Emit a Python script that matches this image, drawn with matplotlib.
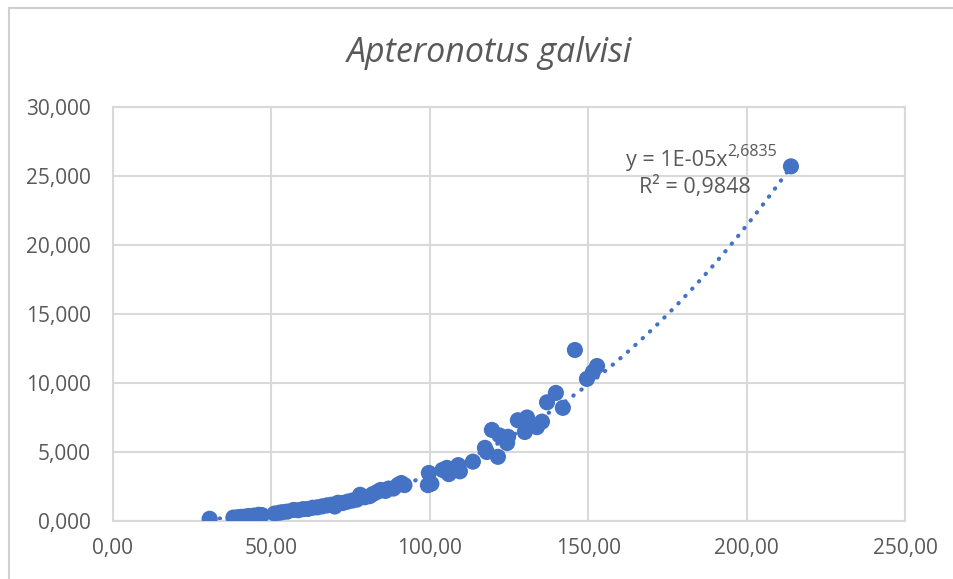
import numpy as np
import matplotlib
matplotlib.use("Agg")
import matplotlib.pyplot as plt
from matplotlib.ticker import FuncFormatter, MultipleLocator
from matplotlib.patches import Rectangle
from matplotlib.transforms import offset_copy

# length (mm) vs weight (g)
length = [30.5, 38.0, 39.5, 40.5, 42.0, 43.0, 44.5, 46.0, 47.0,
          51.0, 52.5, 53.5, 55.0, 57.0, 58.5, 60.0, 61.5, 63.0, 64.5,
          66.0, 67.5, 69.0, 70.0, 71.0, 72.5, 74.0, 75.5, 77.0, 78.0,
          79.5, 81.0, 82.0, 83.5, 84.5, 86.0, 87.0, 88.5, 90.0, 91.0,
          92.0, 99.4, 99.7, 100.5, 104.0, 105.4, 106.0, 109.0, 109.5,
          113.6, 117.4, 118.0, 119.6, 121.5, 122.0, 124.4, 124.7,
          127.8, 130.0, 130.7, 133.8, 135.4, 137.0, 139.8, 142.0,
          145.8, 149.6, 151.5, 152.8, 214.0]
weight = [0.16, 0.25, 0.28, 0.30, 0.33, 0.36, 0.39, 0.45, 0.43,
          0.54, 0.60, 0.64, 0.68, 0.80, 0.78, 0.86, 0.87, 0.96, 0.99,
          1.06, 1.13, 1.18, 1.05, 1.32, 1.30, 1.40, 1.48, 1.55, 1.90,
          1.72, 1.80, 1.95, 2.12, 2.25, 2.18, 2.35, 2.35, 2.62, 2.75,
          2.60, 2.60, 3.48, 2.70, 3.70, 3.85, 3.40, 4.05, 3.60,
          4.30, 5.30, 5.00, 6.60, 4.65, 6.20, 5.65, 6.10,
          7.30, 6.45, 7.50, 6.80, 7.20, 8.60, 9.28, 8.20,
          12.39, 10.30, 10.80, 11.23, 25.70]

title = "Apteronotus galvisi"

blue = "#4472C4"
grey_text = "#595959"
grid_col = "#D9D9D9"

plt.rcParams['font.family'] = ['Open Sans', 'DejaVu Sans']

fig = plt.figure(figsize=(9.54, 5.79), dpi=100)
fig.patches.append(Rectangle((9 / 954, -0.1), 1.0, (579 - 8) / 579 + 0.1,
                             transform=fig.transFigure, fill=False,
                             edgecolor="#D0D0D0", linewidth=1.5))
ax = fig.add_axes([113 / 954, 58 / 579, (905 - 113) / 954, (521 - 107) / 579])

# power trendline (log-log least squares, like Excel)
b, loga = np.polyfit(np.log(length), np.log(weight), 1)
xs = np.linspace(min(length), max(length), 200)
ax.plot(xs, np.exp(loga) * xs ** b, color=blue, linewidth=3,
        linestyle=(0, (0.1, 2.3)), dash_capstyle="round", zorder=2)

ax.scatter(length, weight, s=135, color=blue, edgecolors="none", zorder=3)

ax.set_xlim(0, 250)
ax.set_ylim(0, 30)
ax.xaxis.set_major_locator(MultipleLocator(50))
ax.yaxis.set_major_locator(MultipleLocator(5))
ax.xaxis.set_major_formatter(FuncFormatter(lambda v, p: f"{v:.2f}".replace(".", ",")))
ax.yaxis.set_major_formatter(FuncFormatter(lambda v, p: f"{v:.3f}".replace(".", ",")))
ax.tick_params(length=0, labelsize=15, labelcolor=grey_text)
ax.tick_params(axis="y", pad=16)
ax.tick_params(axis="x", pad=12)
ax.grid(True, color=grid_col, linewidth=1.5)
ax.set_axisbelow(True)
for s in ax.spines.values():
    s.set_color(grid_col)
    s.set_linewidth(1.5)

fig.text(490 / 954, 1 - 53 / 579, title, ha="center", va="center",
         fontsize=24.5, style="italic", color=grey_text)

# trendline label
ax.text(194.0, 26.1, "y = 1E-05x", ha="right", va="center",
        fontsize=15.5, color=grey_text)
sup = offset_copy(ax.transData, fig=fig, x=0, y=6.5, units="points")
ax.text(194.0, 26.1, "2,6835", ha="left", va="center",
        fontsize=11.5, color=grey_text, transform=sup)
ax.text(183.7, 24.2, "R² = 0,9848", ha="center", va="center",
        fontsize=15.5, color=grey_text)

fig.savefig("out.png", dpi=100)
